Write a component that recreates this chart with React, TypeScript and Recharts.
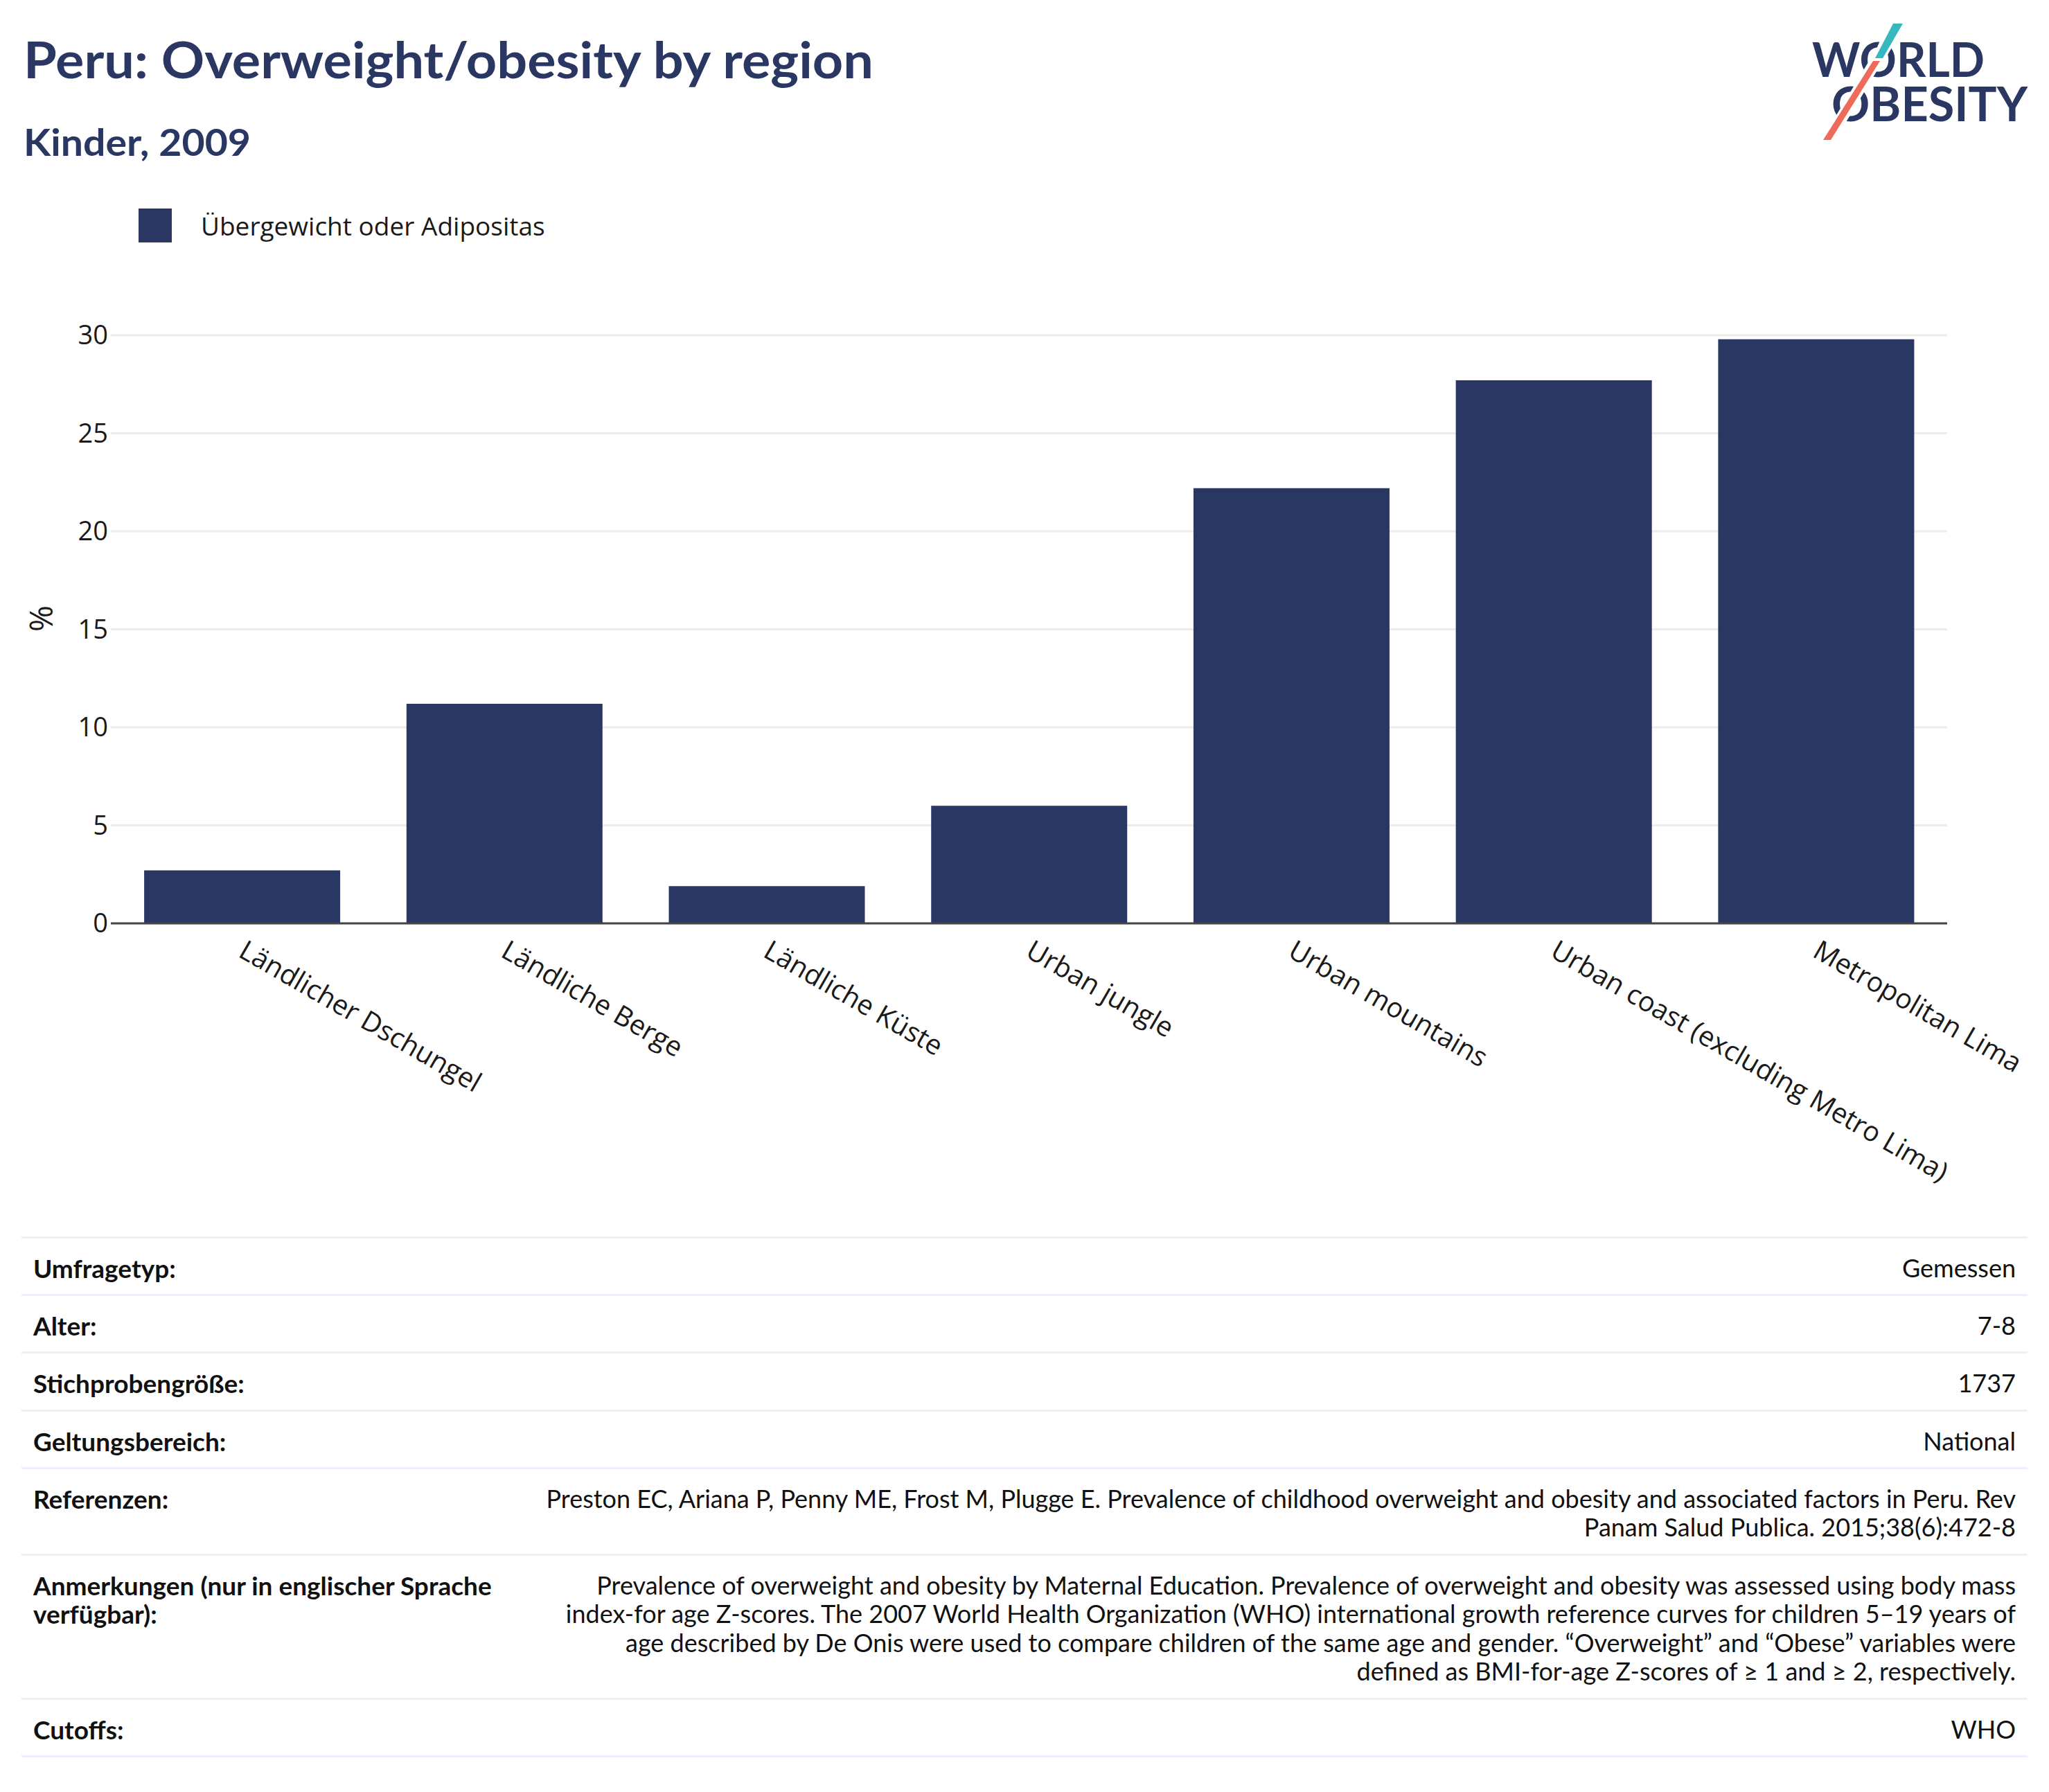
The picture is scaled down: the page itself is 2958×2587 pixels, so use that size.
import React from 'react';
import { BarChart, Bar, XAxis, YAxis, CartesianGrid } from 'recharts';

const NAVY = '#2b3763';
const TEAL = '#35b9bf';
const CORAL = '#ee6b5b';

const title = 'Peru: Overweight/obesity by region';
const subtitle = 'Kinder, 2009';
const seriesName = 'Übergewicht oder Adipositas';
const yLabel = '%';

const categories = [
  'Ländlicher Dschungel',
  'Ländliche Berge',
  'Ländliche Küste',
  'Urban jungle',
  'Urban mountains',
  'Urban coast (excluding Metro Lima)',
  'Metropolitan Lima',
];
const values = [2.7, 11.2, 1.9, 6.0, 22.2, 27.7, 29.8];
const yTicks = [0, 5, 10, 15, 20, 25, 30];

const tableLabels: string[][] = [
  ['Umfragetyp:'],
  ['Alter:'],
  ['Stichprobengröße:'],
  ['Geltungsbereich:'],
  ['Referenzen:'],
  ['Anmerkungen (nur in englischer Sprache', 'verfügbar):'],
  ['Cutoffs:'],
];
const tableValues: string[][] = [
  ['Gemessen'],
  ['7-8'],
  ['1737'],
  ['National'],
  [
    'Preston EC, Ariana P, Penny ME, Frost M, Plugge E. Prevalence of childhood overweight and obesity and associated factors in Peru. Rev',
    'Panam Salud Publica. 2015;38(6):472-8',
  ],
  [
    'Prevalence of overweight and obesity by Maternal Education. Prevalence of overweight and obesity was assessed using body mass',
    'index-for age Z-scores. The 2007 World Health Organization (WHO) international growth reference curves for children 5–19 years of',
    'age described by De Onis were used to compare children of the same age and gender. “Overweight” and “Obese” variables were',
    'defined as BMI-for-age Z-scores of ≥ 1 and ≥ 2, respectively.',
  ],
  ['WHO'],
];

const data = categories.map((region, i) => ({ region, value: values[i] }));

const TICK_FONT = '"Open Sans", sans-serif';
const TEXT_FONT = 'Lato, sans-serif';

function XTick(props: any) {
  const { x, y, payload } = props;
  const px = x - 7;
  const py = y + 47;
  return (
    <text
      x={px}
      y={py}
      transform={`rotate(30, ${px}, ${py})`}
      textAnchor="start"
      fontSize={39.5}
      fontFamily={TICK_FONT}
      fill="#1a1a1a"
    >
      {payload.value}
    </text>
  );
}

export default function App() {
  return (
    <div
      style={{
        position: 'absolute',
        left: 0,
        top: 0,
        width: 2958,
        height: 2587,
        background: '#fff',
        overflow: 'hidden',
      }}
    >
      {/* Header, legend, logo */}
      <svg width={2958} height={440} style={{ position: 'absolute', left: 0, top: 0 }}>
        <text
          x={34}
          y={113}
          fontSize={73}
          fontWeight={700}
          fontFamily={TEXT_FONT}
          fill={NAVY}
          textLength={1227}
          lengthAdjust="spacingAndGlyphs"
        >
          {title}
        </text>
        <text
          x={34}
          y={225}
          fontSize={53}
          fontWeight={700}
          fontFamily={TEXT_FONT}
          fill={NAVY}
          textLength={328}
          lengthAdjust="spacingAndGlyphs"
        >
          {subtitle}
        </text>
        <rect x={200} y={301} width={48} height={49} fill={NAVY} />
        <text x={290} y={340} fontSize={37} fontFamily={TICK_FONT} fill="#1a1a1a">
          {seriesName}
        </text>
        {/* logo */}
        <text fontSize={68} fontWeight={700} fontFamily={TEXT_FONT} fill={NAVY}>
          <tspan x={2616} y={111} textLength={249} lengthAdjust="spacingAndGlyphs">
            WORLD
          </tspan>
          <tspan x={2644} y={175} textLength={283} lengthAdjust="spacingAndGlyphs">
            OBESITY
          </tspan>
        </text>
        <polygon points="2727,30 2753,30 2720,88 2701,88" fill="#fff" />
        <polygon points="2700,85 2720,85 2647,206 2627,206" fill="#fff" />
        <polygon points="2733,34 2747,34 2718,84 2707,84" fill={TEAL} />
        <polygon points="2704,88 2714,88 2643,202 2632,202" fill={CORAL} />
      </svg>

      {/* y-axis title */}
      <svg width={120} height={1400} style={{ position: 'absolute', left: 0, top: 0 }}>
        <text
          x={76}
          y={893}
          transform="rotate(-90, 76, 893)"
          textAnchor="middle"
          fontSize={46}
          fontFamily={TICK_FONT}
          fill="#1a1a1a"
        >
          {yLabel}
        </text>
      </svg>

      <div style={{ position: 'absolute', left: 0, top: 0 }}>
        <BarChart
          width={2958}
          height={1760}
          data={data}
          margin={{ top: 484, right: 147, bottom: 127, left: 100 }}
          barCategoryGap="12.7%"
        >
          <CartesianGrid vertical={false} stroke="#ececec" strokeWidth={3} />
          <XAxis
            dataKey="region"
            interval={0}
            height={300}
            tickLine={false}
            tickSize={0}
            tickMargin={0}
            axisLine={{ stroke: '#444', strokeWidth: 3 }}
            tick={<XTick />}
          />
          <YAxis
            width={60}
            domain={[0, 30]}
            ticks={yTicks}
            tickLine={false}
            axisLine={false}
            tickSize={0}
            tickMargin={4}
            tick={{ fontSize: 38, fontFamily: TICK_FONT, fill: '#1a1a1a' }}
          />
          <Bar dataKey="value" name={seriesName} fill={NAVY} isAnimationActive={false} />
        </BarChart>
      </div>

      {/* metadata table */}
      <div
        style={{
          position: 'absolute',
          left: 31,
          top: 1785,
          width: 2896,
          fontFamily: TEXT_FONT,
          lineHeight: '41.6px',
          color: '#111',
        }}
      >
        {tableLabels.map((lab, i) => (
          <div
            key={i}
            style={{
              display: 'flex',
              justifyContent: 'space-between',
              borderTop: '3px solid #edf0f8',
              padding: '22px 17px 16.6px 17px',
              borderBottom: i === tableLabels.length - 1 ? '3px solid #edf0f8' : undefined,
            }}
          >
            <div style={{ fontWeight: 700, whiteSpace: 'nowrap', fontSize: 37 }}>
              {lab.map((l, j) => (
                <div key={j}>{l}</div>
              ))}
            </div>
            <div style={{ textAlign: 'right', whiteSpace: 'nowrap', fontSize: 36 }}>
              {tableValues[i].map((l, j) => (
                <div key={j}>{l}</div>
              ))}
            </div>
          </div>
        ))}
      </div>
    </div>
  );
}
